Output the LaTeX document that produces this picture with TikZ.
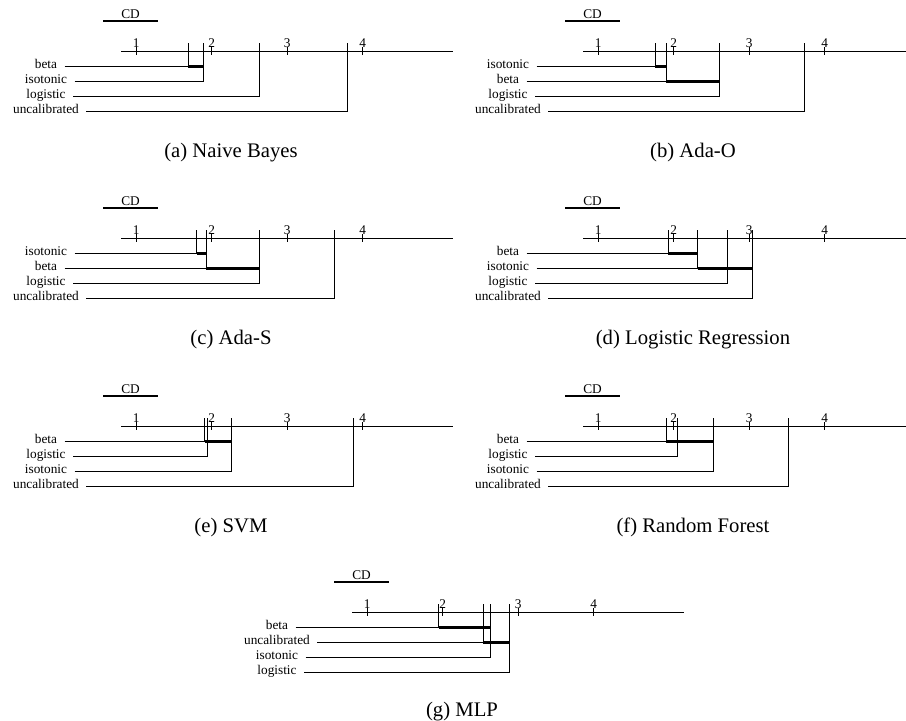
\documentclass[tikz,border=0pt]{standalone}
\usepackage{fontspec}
\setmainfont{Liberation Serif}

% one ranked method: name, label, average rank, row
\newcommand{\meth}[4]{%
  \node[lbl] (#1) at (-75,{15*#4}) {#2};
  \coordinate (#1t) at ({(#3-0.8)*75.5},-8);
  \draw (#1.east) -| (#1t);
}
% rank axis, ticks and CD bar of one panel
\newcommand{\rankaxis}[1]{%
  \draw (0,0) -- (332,0);
  \foreach \r in {1,...,4} {
    \draw ({(\r-0.8)*75.5},-4) -- ({(\r-0.8)*75.5},4);
    \node[num] (#1n\r) at ({(\r-0.8)*75.5},-3.5) {\r};
  }
  \coordinate (#1cdl) at (-18,-30);
  \coordinate (#1cdr) at (37,-30);
  \draw[cdbar] (#1cdl) -- (#1cdr);
  \node[num] (#1cd) at (9.5,-32.5) {CD};
}

\begin{document}
\begin{tikzpicture}[x=1pt, y=-1pt, line width=0.9pt,
  lbl/.style = {font=\fontsize{13.3}{14}\selectfont, inner xsep=7pt, inner ysep=0pt, text height=1.5ex, text depth=.25ex},
  num/.style = {font=\fontsize{13.3}{14}\selectfont, inner sep=0pt, anchor=base},
  subcap/.style = {font=\fontsize{20.7}{22}\selectfont, inner sep=0pt, anchor=base},
  clique/.style = {line width=3pt},
  cdbar/.style = {line width=2.4pt}]
\useasboundingbox (0,0) rectangle (906,721);

% (a)
\begin{scope}[shift={(121,51)}]
\rankaxis{a}
\meth{a1}{beta}{1.69}{1}
\meth{a2}{isotonic}{1.89}{2}
\meth{a3}{logistic}{2.63}{3}
\meth{a4}{uncalibrated}{3.80}{4}
\draw[clique] (a1t |- a1.east) -- (a2t |- a1.east);
\node[subcap] (acap) at (110,106) {(a) Naive Bayes};
\end{scope}

% (b)
\begin{scope}[shift={(583,51)}]
\rankaxis{b}
\meth{b1}{isotonic}{1.76}{1}
\meth{b2}{beta}{1.90}{2}
\meth{b3}{logistic}{2.61}{3}
\meth{b4}{uncalibrated}{3.73}{4}
\draw[clique] (b1t |- b1.east) -- (b2t |- b1.east);
\draw[clique] (b2t |- b2.east) -- (b3t |- b2.east);
\node[subcap] (bcap) at (110,106) {(b) Ada-O};
\end{scope}

% (c)
\begin{scope}[shift={(121,238)}]
\rankaxis{c}
\meth{c1}{isotonic}{1.80}{1}
\meth{c2}{beta}{1.93}{2}
\meth{c3}{logistic}{2.64}{3}
\meth{c4}{uncalibrated}{3.63}{4}
\draw[clique] (c1t |- c1.east) -- (c2t |- c1.east);
\draw[clique] (c2t |- c2.east) -- (c3t |- c2.east);
\node[subcap] (ccap) at (110,106) {(c) Ada-S};
\end{scope}

% (d)
\begin{scope}[shift={(583,238)}]
\rankaxis{d}
\meth{d1}{beta}{1.93}{1}
\meth{d2}{isotonic}{2.32}{2}
\meth{d3}{logistic}{2.71}{3}
\meth{d4}{uncalibrated}{3.04}{4}
\draw[clique] (d1t |- d1.east) -- (d2t |- d1.east);
\draw[clique] (d2t |- d2.east) -- (d4t |- d2.east);
\node[subcap] (dcap) at (110,106) {(d) Logistic Regression};
\end{scope}

% (e)
\begin{scope}[shift={(121,426)}]
\rankaxis{e}
\meth{e1}{beta}{1.91}{1}
\meth{e2}{logistic}{1.95}{2}
\meth{e3}{isotonic}{2.26}{3}
\meth{e4}{uncalibrated}{3.88}{4}
\draw[clique] (e1t |- e1.east) -- (e3t |- e1.east);
\node[subcap] (ecap) at (110,106) {(e) SVM};
\end{scope}

% (f)
\begin{scope}[shift={(583,426)}]
\rankaxis{f}
\meth{f1}{beta}{1.90}{1}
\meth{f2}{logistic}{2.05}{2}
\meth{f3}{isotonic}{2.53}{3}
\meth{f4}{uncalibrated}{3.52}{4}
\draw[clique] (f1t |- f1.east) -- (f3t |- f1.east);
\node[subcap] (fcap) at (110,106) {(f) Random Forest};
\end{scope}

% (g)
\begin{scope}[shift={(352,612)}]
\rankaxis{g}
\meth{g1}{beta}{1.95}{1}
\meth{g2}{uncalibrated}{2.54}{2}
\meth{g3}{isotonic}{2.63}{3}
\meth{g4}{logistic}{2.88}{4}
\draw[clique] (g1t |- g1.east) -- (g3t |- g1.east);
\draw[clique] (g2t |- g2.east) -- (g4t |- g2.east);
\node[subcap] (gcap) at (110,104) {(g) MLP};
\end{scope}

\end{tikzpicture}
\end{document}
